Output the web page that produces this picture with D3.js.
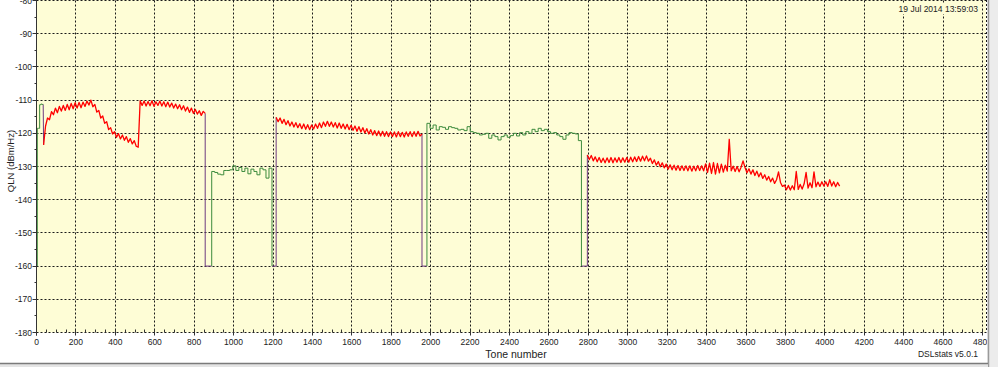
<!DOCTYPE html>
<html>
<head>
<meta charset="utf-8">
<script src="https://cdn.jsdelivr.net/npm/d3@7"></script>
<style>
  body { margin: 0; background: #fff; overflow: hidden; }
  svg { display: block; font-family: "Liberation Sans", Arial, sans-serif; }
  .lbl { font-size: 8.5px; fill: #222; }
</style>
</head>
<body>
<script>
// QLN per band (dBm/Hz)
const bandNames = ["US0", "DS1", "US1", "DS2", "US2", "DS3"];
const bandStart = [4, 36, 889, 1216, 1981, 2795];
const bandEnd   = [34, 856, 1195, 1956, 2765, 4075];
const bandDir   = ["up", "down", "up", "down", "up", "down"];

const us0Qln = [-118.5, -118.5, -111.4, -111.2, -111.3];

const ds1Qln = [
  -123.5, -117.8, -115.4, -115.9, -113.5, -114.4, -112.4, -113.8, -111.9, -113.3,
  -111.6, -113.1, -111.3, -112.9, -111.0, -112.6, -110.8, -112.4, -110.7, -112.3,
  -110.6, -111.9, -110.3, -111.5, -110.0, -112.0, -111.3, -113.6, -113.1, -115.4,
  -114.8, -117.0, -116.5, -118.9, -118.3, -120.2, -119.5, -121.2, -120.1, -121.7,
  -120.5, -122.1, -121.0, -122.7, -121.6, -123.2, -122.2, -123.9, -124.2,
  -110.2, -111.6, -110.3, -111.8, -110.4, -111.7, -110.2, -111.9, -110.5, -111.6,
  -110.3, -111.8, -110.5, -112.0, -110.6, -112.1, -110.9, -112.4, -111.2, -112.6,
  -111.4, -112.9, -111.7, -113.3, -112.1, -113.7, -112.4, -114.0, -112.8, -114.2,
  -113.2, -114.6, -113.4, -114.0
];

const us1Qln = [
  -131.5, -131.8, -132.3, -132.5, -131.2, -131.2, -131.0, -129.8, -131.2, -130.3,
  -131.5, -130.5, -132.2, -130.8, -131.5, -132.5, -130.5, -131.0, -133.5, -130.5
];

const ds2Qln = [
  -115.2, -116.5, -115.4, -117.0, -115.8, -117.4, -116.2, -117.8, -116.6, -118.1,
  -116.8, -118.3, -117.1, -118.6, -117.2, -118.8, -117.4, -118.9, -117.5, -118.7,
  -117.2, -118.5, -116.9, -118.3, -116.6, -117.9, -116.4, -117.9, -116.6, -118.1,
  -116.8, -118.4, -116.9, -118.5, -117.2, -118.7, -117.3, -118.9, -117.6, -119.1,
  -117.8, -119.4, -118.0, -119.6, -118.3, -119.9, -118.6, -120.2, -118.9, -120.5,
  -119.2, -120.7, -119.3, -120.8, -119.4, -120.9, -119.5, -121.0, -119.6, -121.0,
  -119.6, -121.1, -119.5, -121.0, -119.7, -121.1, -119.6, -120.9, -119.5, -121.0,
  -119.5, -120.9, -119.4, -120.8, -120.2
];

const us2Qln = [
  -117.0, -118.5, -117.5, -119.0, -118.0, -118.2, -118.8, -118.0, -118.3, -118.5,
  -119.0, -118.8, -119.2, -118.0, -119.5, -119.8, -120.0, -120.5, -120.3, -120.0,
  -121.5, -120.5, -121.0, -122.0, -121.0, -120.5, -121.2, -120.7, -120.0, -120.8,
  -119.8, -120.5, -119.5, -120.0, -118.8, -119.5, -118.5, -119.2, -118.8, -119.5,
  -120.0, -119.8, -120.5, -121.0, -121.8, -120.5, -119.8, -120.0, -120.2, -122.2
];

const ds3Qln = [
  -126.5, -127.9, -126.7, -128.3, -127.1, -128.6, -127.3, -128.8, -127.5, -128.9,
  -127.4, -128.8, -127.3, -128.9, -127.4, -128.7, -127.3, -128.8, -127.4, -128.7,
  -127.3, -128.7, -127.2, -128.6, -127.1, -128.5, -127.0, -128.4, -126.9, -128.3,
  -126.8, -128.4, -127.5, -129.1, -128.0, -129.6, -128.5, -130.1, -128.9, -130.4,
  -129.3, -130.8, -129.5, -131.0, -129.6, -131.1, -129.7, -131.2, -129.8, -131.2,
  -129.8, -131.3, -129.8, -131.4, -129.9, -131.3, -129.7, -131.2, -129.8, -131.3,
  -129.2, -131.8, -129.0, -132.1, -128.8, -132.3, -129.1, -131.9, -129.3, -131.7,
  -129.6, -131.4, -121.8, -131.3, -129.9, -131.5, -130.0, -131.6, -130.2, -128.3,
  -130.3, -131.9, -130.7, -132.3, -131.0, -132.7, -131.4, -133.1, -131.9, -133.6,
  -132.5, -134.1, -133.0, -134.6, -133.5, -135.1, -134.0, -131.6, -134.8, -136.0,
  -135.6, -137.0, -135.7, -137.1, -135.8, -137.0, -131.5, -136.9, -135.4, -136.8,
  -135.2, -131.8, -136.5, -134.9, -136.4, -131.6, -136.1, -134.7, -136.0, -134.6,
  -135.9, -134.6, -136.0, -134.0, -135.9, -134.6, -136.1, -134.8, -135.9
];

const bandValues = [us0Qln, ds1Qln, us1Qln, ds2Qln, us2Qln, ds3Qln];
// US0 runs straight into DS1, the other boundaries fall to the floor
const boundaryToFloor = [false, true, true, true, true];
const floorQln = -160;

const xTickLabels = [0, 200, 400, 600, 800, 1000, 1200, 1400, 1600, 1800, 2000, 2200,
  2400, 2600, 2800, 3000, 3200, 3400, 3600, 3800, 4000, 4200, 4400, 4600, 4800];
const yTickLabels = [-80, -90, -100, -110, -120, -130, -140, -150, -160, -170, -180];

const timeStamp = "19 Jul 2014 13:59:03";
const versionText = "DSLstats v5.0.1";

const w = 998;
const h = 367;
const plotLeft = 36.5, plotRightTick = 982.5, plotRight = 986, plotTop = 0.5, plotBottom = 332.5;

const red = "#ff0000";
const green = "#3d8b3d";
const purple = "#6d3b80";

const xScale = d3.scaleLinear().domain([0, 4800]).range([plotLeft, plotRightTick]);
const yScale = d3.scaleLinear().domain([-180, -80]).range([plotBottom, plotTop]);
const crisp = v => Math.round(v - 0.5) + 0.5;

const svg = d3.select("body")
  .append("svg")
  .attr("width", w)
  .attr("height", h);

svg.append("clipPath").attr("id", "win")
  .append("rect").attr("x", 0).attr("y", 0).attr("width", 987).attr("height", 363);

const g = svg.append("g").attr("clip-path", "url(#win)");

// plot background
g.append("rect")
  .attr("x", plotLeft)
  .attr("y", -2)
  .attr("width", plotRight - plotLeft)
  .attr("height", plotBottom + 2)
  .attr("fill", "#fefdd6");

// grid
g.selectAll(".hgrid")
  .data(yTickLabels)
  .enter()
  .append("line")
  .attr("class", "hgrid")
  .attr("x1", plotLeft)
  .attr("x2", plotRight)
  .attr("y1", d => crisp(yScale(d)))
  .attr("y2", d => crisp(yScale(d)))
  .attr("stroke", "#1a1a1a")
  .attr("stroke-dasharray", "2,2");

g.selectAll(".vgrid")
  .data(xTickLabels.slice(1))
  .enter()
  .append("line")
  .attr("class", "vgrid")
  .attr("x1", d => crisp(xScale(d)))
  .attr("x2", d => crisp(xScale(d)))
  .attr("y1", plotTop)
  .attr("y2", plotBottom)
  .attr("stroke", "#1a1a1a")
  .attr("stroke-dasharray", "2,2");

g.append("line")
  .attr("x1", plotRight + 0.5).attr("x2", plotRight + 0.5)
  .attr("y1", 0).attr("y2", plotBottom)
  .attr("stroke", "#1a1a1a")
  .attr("stroke-dasharray", "2,2");

// data
const line = d3.line().x(d => xScale(d[0])).y(d => yScale(d[1]));
const stepLine = d3.line().x(d => xScale(d[0])).y(d => yScale(d[1])).curve(d3.curveStepAfter);

function bandPoints(i) {
  const vals = bandValues[i];
  const s = bandStart[i], e = bandEnd[i];
  if (bandDir[i] === "down") {
    const step = (e - s) / (vals.length - 1);
    return vals.map((v, k) => [s + k * step, v]);
  }
  const step = (e - s) / vals.length;
  const pts = [[s, floorQln]];
  vals.forEach((v, k) => pts.push([s + k * step, v]));
  pts.push([e, vals[vals.length - 1]]);
  if (i === bandNames.length - 1 || boundaryToFloor[i]) pts.push([e, floorQln]);
  return pts;
}

// connectors between bands
for (let i = 0; i < bandNames.length - 1; i++) {
  const a = bandValues[i], b = bandValues[i + 1];
  let pts;
  if (!boundaryToFloor[i]) {
    pts = [[bandEnd[i], a[a.length - 1]], [bandStart[i + 1], b[0]]];
  } else {
    pts = [];
    if (bandDir[i] === "down") pts.push([bandEnd[i], a[a.length - 1]]);
    pts.push([bandEnd[i], floorQln]);
    pts.push([bandStart[i + 1], floorQln]);
    if (bandDir[i + 1] === "down") pts.push([bandStart[i + 1], b[0]]);
  }
  g.append("path")
    .attr("d", line(pts))
    .attr("fill", "none")
    .attr("stroke", purple)
    .attr("stroke-width", 1);
}

bandNames.forEach((name, i) => {
  const down = bandDir[i] === "down";
  g.append("path")
    .attr("class", "band " + name)
    .attr("d", (down ? line : stepLine)(bandPoints(i)))
    .attr("fill", "none")
    .attr("stroke", down ? red : green)
    .attr("stroke-width", down ? 1.3 : 1)
    .attr("stroke-linejoin", "round");
});

// axes
g.append("line")
  .attr("x1", plotLeft).attr("x2", plotLeft)
  .attr("y1", 0).attr("y2", plotBottom + 3)
  .attr("stroke", "#333");

const yMinor = d3.range(-175, -79, 10);
g.selectAll(".ytick")
  .data(yTickLabels)
  .enter()
  .append("line")
  .attr("x1", plotLeft - 4).attr("x2", plotLeft)
  .attr("y1", d => crisp(yScale(d)))
  .attr("y2", d => crisp(yScale(d)))
  .attr("stroke", "#333");
g.selectAll(".yminor")
  .data(yMinor)
  .enter()
  .append("line")
  .attr("x1", plotLeft - 2).attr("x2", plotLeft)
  .attr("y1", d => crisp(yScale(d)))
  .attr("y2", d => crisp(yScale(d)))
  .attr("stroke", "#333");

const xMinor = d3.range(50, 4800, 50).filter(d => d % 200 !== 0);
g.selectAll(".xtick")
  .data(xTickLabels)
  .enter()
  .append("line")
  .attr("x1", d => crisp(xScale(d)))
  .attr("x2", d => crisp(xScale(d)))
  .attr("y1", plotBottom - 3).attr("y2", plotBottom + 3)
  .attr("stroke", "#333");
g.selectAll(".xminor")
  .data(xMinor)
  .enter()
  .append("line")
  .attr("x1", d => crisp(xScale(d)))
  .attr("x2", d => crisp(xScale(d)))
  .attr("y1", plotBottom - 3).attr("y2", plotBottom)
  .attr("stroke", "#333");

g.selectAll(".ylabel")
  .data(yTickLabels)
  .enter()
  .append("text")
  .attr("class", "lbl")
  .attr("x", 32)
  .attr("y", d => yScale(d) + 3)
  .attr("text-anchor", "end")
  .text(d => d);

g.selectAll(".xlabel")
  .data(xTickLabels)
  .enter()
  .append("text")
  .attr("class", "lbl")
  .attr("x", d => xScale(d))
  .attr("y", 345)
  .attr("text-anchor", "middle")
  .text(d => d);

g.append("text")
  .attr("x", 516)
  .attr("y", 358)
  .attr("text-anchor", "middle")
  .attr("font-size", "10.5px")
  .attr("fill", "#222")
  .text("Tone number");

g.append("text")
  .attr("transform", "translate(14,161) rotate(-90)")
  .attr("text-anchor", "middle")
  .attr("font-size", "9.5px")
  .attr("fill", "#222")
  .text("QLN (dBm/Hz)");

// timestamp sits on a patch of plot colour
const stamp = g.append("text")
  .attr("x", 978)
  .attr("y", 12)
  .attr("text-anchor", "end")
  .attr("class", "lbl")
  .text(timeStamp);
const sb = stamp.node().getBBox();
g.insert("rect", () => stamp.node())
  .attr("x", sb.x - 2)
  .attr("y", sb.y)
  .attr("width", sb.width + 4)
  .attr("height", sb.height)
  .attr("fill", "#fefdd6");

g.append("text")
  .attr("x", 978)
  .attr("y", 357)
  .attr("text-anchor", "end")
  .attr("class", "lbl")
  .text(versionText);

// window frame
svg.append("rect").attr("x", 987).attr("y", 0).attr("width", 11).attr("height", h).attr("fill", "#ececec");
svg.append("line").attr("x1", 988.5).attr("x2", 988.5).attr("y1", 0).attr("y2", h)
  .attr("stroke", "#9a9a9a").attr("stroke-width", 1.5);
svg.append("rect").attr("x", 0).attr("y", 363).attr("width", 988).attr("height", 4).attr("fill", "#e4e4e4");
svg.append("line").attr("x1", 0).attr("x2", 988).attr("y1", 363.5).attr("y2", 363.5)
  .attr("stroke", "#7a7a7a").attr("stroke-width", 1.5);
</script>
</body>
</html>
